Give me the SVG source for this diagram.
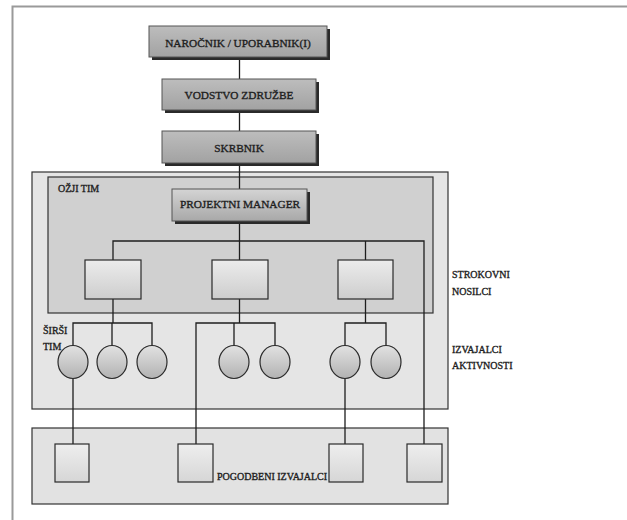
<svg xmlns="http://www.w3.org/2000/svg" width="627" height="520" viewBox="0 0 627 520">
<defs>
<linearGradient id="gTop" x1="0" y1="0" x2="0" y2="1"><stop offset="0" stop-color="#bdbdbd"/><stop offset="1" stop-color="#a2a2a2"/></linearGradient>
<linearGradient id="gPM" x1="0" y1="0" x2="0" y2="1"><stop offset="0" stop-color="#d4d4d4"/><stop offset="1" stop-color="#a8a8a8"/></linearGradient>
<linearGradient id="gRect" x1="0" y1="0" x2="0" y2="1"><stop offset="0" stop-color="#ececec"/><stop offset="1" stop-color="#cdcdcd"/></linearGradient>
<linearGradient id="gCirc" x1="0" y1="0" x2="0" y2="1"><stop offset="0" stop-color="#e2e2e2"/><stop offset="1" stop-color="#b2b2b2"/></linearGradient>
<linearGradient id="gSq" x1="0" y1="0" x2="0" y2="1"><stop offset="0" stop-color="#eeeeee"/><stop offset="1" stop-color="#d6d6d6"/></linearGradient>
</defs>
<style>
text{font-family:"Liberation Serif","Times New Roman",serif;fill:#1e1e1e;stroke:#1e1e1e;stroke-width:0.35}
.big{font-size:11.3px;text-anchor:middle}
.lbl{font-size:10px}
.ln{stroke:#1e1e1e;stroke-width:1.3;fill:none}
.sh{fill:#2a2a2a}
.tb{fill:url(#gTop);stroke:#555;stroke-width:1}
.pm{fill:url(#gPM);stroke:#555;stroke-width:1}
.r{fill:url(#gRect);stroke:#2a2a2a;stroke-width:1.2}
.c{fill:url(#gCirc);stroke:#2a2a2a;stroke-width:1.2}
.sq{fill:url(#gSq);stroke:#2a2a2a;stroke-width:1.2}
</style>
<rect width="627" height="520" fill="#ffffff"/>
<path d="M12.5,520 V6.5 H627" fill="none" stroke="#9a9a9a" stroke-width="2"/>

<g id="sirsi-tim">
<rect x="32" y="172" width="416" height="237" fill="#e5e5e5" stroke="#333" stroke-width="1.2"/>
</g>
<g id="ozji-tim">
<rect x="48" y="177" width="385" height="136" fill="#d0d0d0" stroke="#333" stroke-width="1.2"/>
<text class="lbl" x="58" y="192">OŽJI TIM</text>
</g>
<g id="pogodbeni">
<rect x="32" y="428" width="416" height="76" fill="#e2e2e2" stroke="#333" stroke-width="1.2"/>
<text class="lbl" x="217" y="480">POGODBENI IZVAJALCI</text>
</g>

<g id="connectors">
<path class="ln" d="M239.5,57 V79 M239.5,110 V131 M239.5,163 V189 M239.5,221 V260"/>
<path class="ln" d="M113,260 V241 H424 V444 M365.5,241 V260"/>
<path class="ln" d="M113,299 V323 M73,345.5 V323 H152 V345.5 M112,323 V345.5"/>
<path class="ln" d="M239.5,299 V323 M196,444 V323 H275 V345.5 M234,323 V345.5"/>
<path class="ln" d="M365.5,299 V323 M345,345.5 V323 H386 V345.5"/>
<path class="ln" d="M73,378 V444 M345,378 V444"/>
</g>

<g id="narocnik">
<rect class="sh" x="152" y="29" width="178" height="31"/>
<rect class="tb" x="149" y="26" width="178" height="31"/>
<text class="big" x="238" y="47">NAROČNIK / UPORABNIK(I)</text>
</g>
<g id="vodstvo">
<rect class="sh" x="165" y="82" width="154" height="31"/>
<rect class="tb" x="162" y="79" width="154" height="31"/>
<text class="big" x="239" y="99">VODSTVO ZDRUŽBE</text>
</g>
<g id="skrbnik">
<rect class="sh" x="165" y="134" width="154" height="32"/>
<rect class="tb" x="162" y="131" width="154" height="32"/>
<text class="big" x="239" y="152">SKRBNIK</text>
</g>
<g id="projektni-manager">
<rect class="sh" x="175" y="192" width="135" height="32"/>
<rect class="pm" x="172" y="189" width="135" height="32"/>
<text class="big" x="240" y="208">PROJEKTNI MANAGER</text>
</g>

<g id="strokovni-1"><rect class="r" x="85" y="260" width="56" height="39"/></g>
<g id="strokovni-2"><rect class="r" x="212" y="260" width="56" height="39"/></g>
<g id="strokovni-3"><rect class="r" x="338" y="260" width="55" height="39"/></g>

<g id="izvajalec-1"><ellipse class="c" cx="73" cy="362" rx="15" ry="16.5"/></g>
<g id="izvajalec-2"><ellipse class="c" cx="112" cy="362" rx="15" ry="16.5"/></g>
<g id="izvajalec-3"><ellipse class="c" cx="152" cy="362" rx="15" ry="16.5"/></g>
<g id="izvajalec-4"><ellipse class="c" cx="234" cy="362" rx="15" ry="16.5"/></g>
<g id="izvajalec-5"><ellipse class="c" cx="275" cy="362" rx="15" ry="16.5"/></g>
<g id="izvajalec-6"><ellipse class="c" cx="345" cy="362" rx="15" ry="16.5"/></g>
<g id="izvajalec-7"><ellipse class="c" cx="386" cy="362" rx="15" ry="16.5"/></g>

<g id="pogodbeni-1"><rect class="sq" x="55" y="444" width="34" height="38"/></g>
<g id="pogodbeni-2"><rect class="sq" x="178" y="444" width="35" height="38"/></g>
<g id="pogodbeni-3"><rect class="sq" x="329" y="444" width="34" height="38"/></g>
<g id="pogodbeni-4"><rect class="sq" x="407" y="444" width="35" height="38"/></g>

<g id="labels">
<text class="lbl" x="43" y="334">ŠIRŠI</text>
<text class="lbl" x="43" y="350">TIM</text>
<text class="lbl" x="452" y="278">STROKOVNI</text>
<text class="lbl" x="452" y="295">NOSILCI</text>
<text class="lbl" x="452" y="353">IZVAJALCI</text>
<text class="lbl" x="452" y="369">AKTIVNOSTI</text>
</g>
</svg>
